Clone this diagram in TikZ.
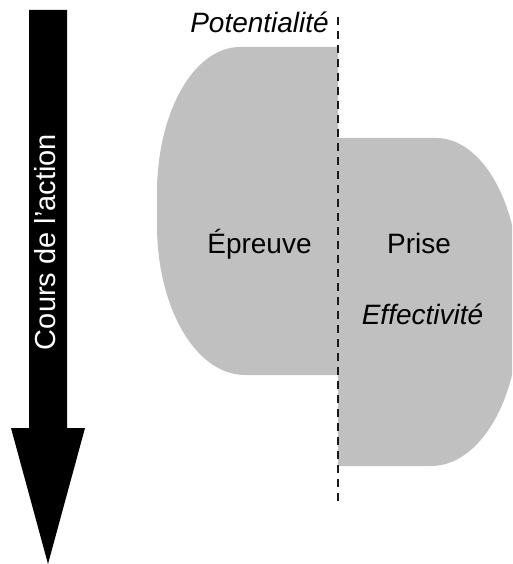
\documentclass[tikz,border=0pt]{standalone}
\usepackage{fontspec}
\setmainfont{Liberation Sans}
\definecolor{lobegray}{HTML}{C0C0C0}
\definecolor{dashblack}{HTML}{1A1A1A}
\usepackage{tikz}
\usetikzlibrary{positioning, calc}

\begin{document}
\begin{tikzpicture}[x=1pt, y=-1pt,
    lobe/.style={fill=lobegray, draw=none},
    divide/.style={draw=dashblack, line width=2.8pt, dash pattern=on 8pt off 6pt},
    label/.style={font=\fontsize{28}{34}\selectfont, inner sep=0pt},
    flow/.style={fill=black, draw=none}]
      \useasboundingbox (0,0) rectangle (512,564);

      \fill[flow] (29,10) -- (67,10) -- (67,428) -- (85,428) -- (48,564)
        -- (11,428) -- (29,428) -- cycle;
      \node[label, text=white, rotate=90, anchor=base,
            font=\fontsize{29}{34}\selectfont] (cours) at (55,242) {Cours de l'action};

      \begin{scope}
        \clip (0,0) rectangle (512,564);
        \fill[lobe] (338,47) -- (240,47) .. controls (194,47) and (157,112) .. (157,193)
          -- (157,225) .. controls (157,308) and (196,375) .. (245,375) -- (338,375) -- cycle;
        \fill[lobe] (338,138) -- (436,138) .. controls (482,138) and (519,203) .. (519,284)
          -- (519,316) .. controls (519,399) and (480,466) .. (431,466) -- (338,466) -- cycle;
      \end{scope}

      \coordinate (dtop) at (338,17);
      \coordinate (dbot) at (338,502);
      \draw[divide] (dtop) -- (dbot);

      \node[label, anchor=base east] (potentialite) at (329,33) {\itshape Potentialité};
      \node[label, anchor=base] (epreuve) at (259.5,253) {Épreuve};
      \node[label, anchor=base] (prise) at (419,253) {Prise};
      \node[label, anchor=base] (effectivite) at (422.5,324) {\itshape Effectivité};
    \end{tikzpicture}
\end{document}
